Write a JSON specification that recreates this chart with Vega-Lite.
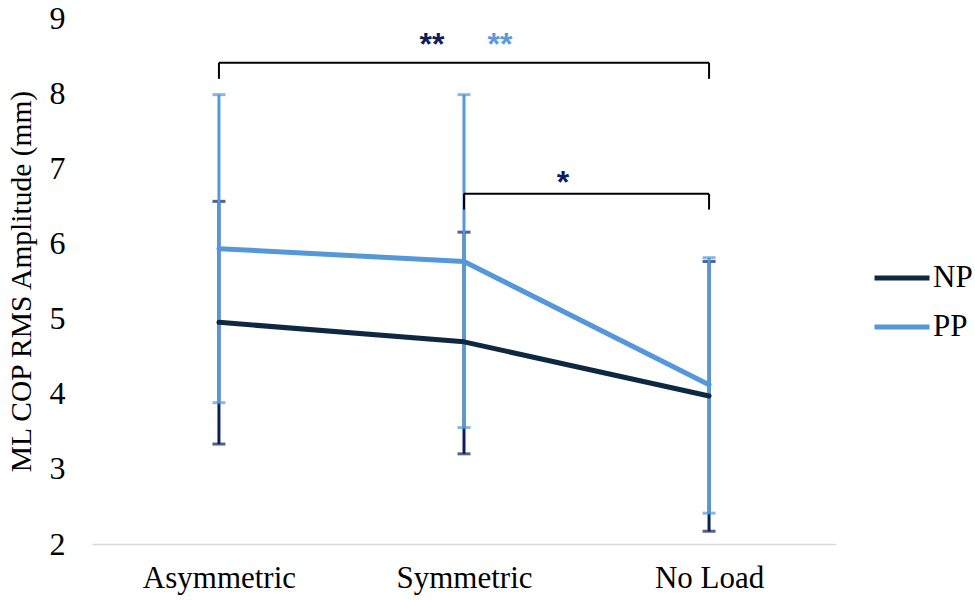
{
  "$schema": "https://vega.github.io/schema/vega-lite/v6.json",
  "autosize": {"type": "none"},
  "padding": {"left": 92, "top": 18, "right": 139, "bottom": 56},
  "width": 744,
  "height": 526,
  "background": "white",
  "config": {"view": {"stroke": null}, "font": "Liberation Serif"},
  "datasets": {
    "means": [
      {"condition": "Asymmetric", "series": "NP", "mean": 4.95, "lo": 3.33, "hi": 6.56},
      {"condition": "Symmetric", "series": "NP", "mean": 4.69, "lo": 3.2, "hi": 6.15},
      {"condition": "No Load", "series": "NP", "mean": 3.97, "lo": 2.17, "hi": 5.76},
      {"condition": "Asymmetric", "series": "PP", "mean": 5.93, "lo": 3.88, "hi": 7.98},
      {"condition": "Symmetric", "series": "PP", "mean": 5.76, "lo": 3.55, "hi": 7.98},
      {"condition": "No Load", "series": "PP", "mean": 4.12, "lo": 2.41, "hi": 5.81}
    ],
    "hbrackets": [
      {"from": "Asymmetric", "to": "No Load", "y": 8.405},
      {"from": "Symmetric", "to": "No Load", "y": 6.66}
    ],
    "vbrackets": [
      {"at": "Asymmetric", "y": 8.19, "y2": 8.405},
      {"at": "No Load", "y": 8.19, "y2": 8.405},
      {"at": "Symmetric", "y": 6.45, "y2": 6.66},
      {"at": "No Load", "y": 6.45, "y2": 6.66}
    ]
  },
  "layer": [
    {
      "data": {"name": "means"},
      "transform": [{"filter": "datum.series === 'NP'"}],
      "mark": {"type": "errorbar", "color": "#0b1f5c", "thickness": 3, "ticks": {"size": 13, "thickness": 3, "color": "#0b1f5c"}},
      "encoding": {
        "x": {
          "field": "condition", "type": "nominal", "title": null,
          "scale": {"type": "point", "padding": 0.518, "domain": ["Asymmetric", "Symmetric", "No Load"]},
          "axis": {"title": null, "labelAngle": 0, "labelFont": "Liberation Serif", "labelFontSize": 31, "labelColor": "#000000", "labelPadding": 19, "ticks": false, "domainColor": "#d9d9d9", "domainWidth": 1.5, "grid": false}
        },
        "y": {
          "field": "lo", "type": "quantitative", "title": "ML COP RMS Amplitude (mm)",
          "scale": {"domain": [2, 9], "nice": false, "zero": false},
          "axis": {"title": "ML COP RMS Amplitude (mm)", "titleFont": "Liberation Serif", "titleFontSize": 29.5, "titleFontWeight": "normal", "titleColor": "#000000", "titlePadding": 13, "values": [2, 3, 4, 5, 6, 7, 8, 9], "format": "d", "labelFont": "Liberation Serif", "labelFontSize": 32, "labelColor": "#000000", "labelPadding": 27, "ticks": false, "domain": false, "grid": false}
        },
        "y2": {"field": "hi"}
      }
    },
    {
      "data": {"name": "means"},
      "transform": [{"filter": "datum.series === 'PP'"}],
      "mark": {"type": "errorbar", "color": "#5599dc", "thickness": 3, "ticks": {"size": 13, "thickness": 3, "color": "#5599dc"}},
      "encoding": {
        "x": {"field": "condition", "type": "nominal", "title": null},
        "y": {"field": "lo", "type": "quantitative", "title": "ML COP RMS Amplitude (mm)"},
        "y2": {"field": "hi"}
      }
    },
    {
      "data": {"name": "means"},
      "mark": {"type": "line", "strokeWidth": 5, "strokeCap": "round", "strokeJoin": "round"},
      "encoding": {
        "x": {"field": "condition", "type": "nominal", "title": null},
        "y": {"field": "mean", "type": "quantitative", "title": "ML COP RMS Amplitude (mm)"},
        "color": {
          "field": "series", "type": "nominal",
          "scale": {"domain": ["NP", "PP"], "range": ["#0e2841", "#5498da"]},
          "legend": {"title": null, "orient": "none", "legendX": 780, "legendY": 230, "padding": 0, "symbolType": "stroke", "symbolStrokeWidth": 5, "symbolSize": 3025, "labelFont": "Liberation Serif", "labelFontSize": 31, "labelColor": "#000000", "labelOffset": 1, "rowPadding": 4, "symbolOffset": 0}
        }
      }
    },
    {
      "data": {"name": "hbrackets"},
      "mark": {"type": "rule", "color": "#000000", "strokeWidth": 2},
      "encoding": {
        "x": {"field": "from", "type": "nominal", "title": null},
        "x2": {"field": "to"},
        "y": {"field": "y", "type": "quantitative", "title": "ML COP RMS Amplitude (mm)"}
      }
    },
    {
      "data": {"name": "vbrackets"},
      "mark": {"type": "rule", "color": "#000000", "strokeWidth": 2},
      "encoding": {
        "x": {"field": "at", "type": "nominal", "title": null},
        "y": {"field": "y", "type": "quantitative", "title": "ML COP RMS Amplitude (mm)"},
        "y2": {"field": "y2"}
      }
    },
    {
      "data": {"values": [{"at": "Symmetric", "y": 8.75, "label": "**"}]},
      "mark": {"type": "text", "font": "Liberation Sans", "fontSize": 32, "fontWeight": "bold", "color": "#0b1f5c", "dx": -32, "baseline": "middle", "dy": 8},
      "encoding": {
        "x": {"field": "at", "type": "nominal", "title": null},
        "y": {"field": "y", "type": "quantitative", "title": "ML COP RMS Amplitude (mm)"},
        "text": {"field": "label"}
      }
    },
    {
      "data": {"values": [{"at": "Symmetric", "y": 8.75, "label": "**"}]},
      "mark": {"type": "text", "font": "Liberation Sans", "fontSize": 32, "fontWeight": "bold", "color": "#5a9be0", "dx": 36, "baseline": "middle", "dy": 8},
      "encoding": {
        "x": {"field": "at", "type": "nominal", "title": null},
        "y": {"field": "y", "type": "quantitative", "title": "ML COP RMS Amplitude (mm)"},
        "text": {"field": "label"}
      }
    },
    {
      "data": {"values": [{"at": "Symmetric", "y": 6.91, "label": "*"}]},
      "mark": {"type": "text", "font": "Liberation Sans", "fontSize": 32, "fontWeight": "bold", "color": "#0b1f5c", "dx": 99, "baseline": "middle", "dy": 8},
      "encoding": {
        "x": {"field": "at", "type": "nominal", "title": null},
        "y": {"field": "y", "type": "quantitative", "title": "ML COP RMS Amplitude (mm)"},
        "text": {"field": "label"}
      }
    }
  ]
}
